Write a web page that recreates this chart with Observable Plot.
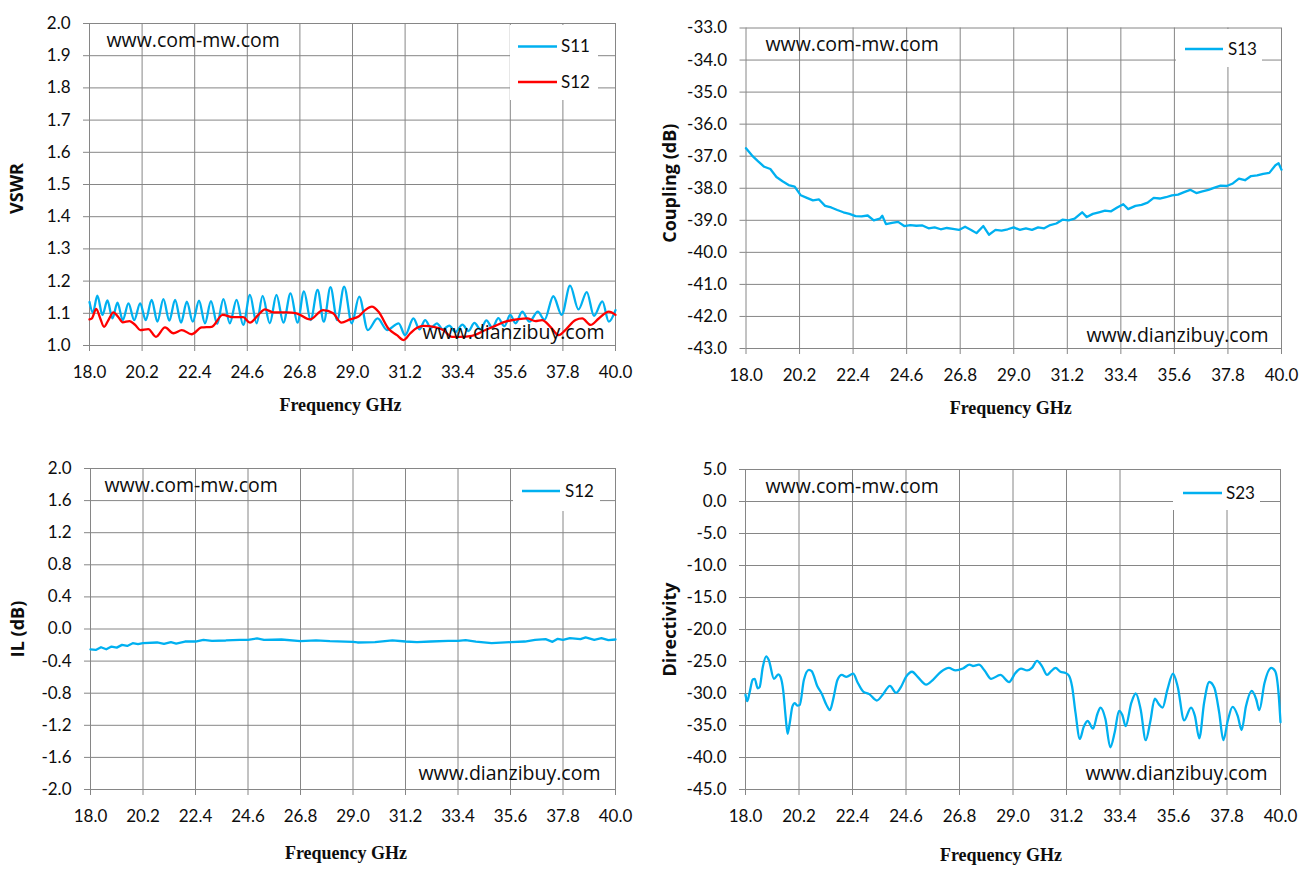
<!DOCTYPE html>
<html>
<head>
<meta charset="utf-8">
<script src="https://cdn.jsdelivr.net/npm/d3@7"></script>
<script src="https://cdn.jsdelivr.net/npm/@observablehq/plot@0.6"></script>
<style>
  body { margin: 0; background: #fff; }
  #root { position: relative; width: 1310px; height: 874px; overflow: hidden; background: #fff; }
  #root > svg { position: absolute; }
</style>
</head>
<body>
<div id="root"></div>
<script>
// ---------- tick labels ----------
const xTicks = [18.0, 20.2, 22.4, 24.6, 26.8, 29.0, 31.2, 33.4, 35.6, 37.8, 40.0];
const vswrTicks = [1.0, 1.1, 1.2, 1.3, 1.4, 1.5, 1.6, 1.7, 1.8, 1.9, 2.0];
const couplingTicks = [-43, -42, -41, -40, -39, -38, -37, -36, -35, -34, -33];
const ilTicks = [-2.0, -1.6, -1.2, -0.8, -0.4, 0.0, 0.4, 0.8, 1.2, 1.6, 2.0];
const dirTicks = [-45, -40, -35, -30, -25, -20, -15, -10, -5, 0, 5];

// ---------- series: VSWR S11 ----------
const s11Freq = [18.0, 18.14, 18.33, 18.54, 18.75, 18.96, 19.17, 19.39, 19.63, 19.87, 20.12, 20.35, 20.6, 20.84,
  21.09, 21.34, 21.58, 21.83, 22.07, 22.32, 22.58, 22.83, 23.08, 23.34, 23.6, 23.87, 24.15, 24.43, 24.71, 24.99,
  25.24, 25.54, 25.82, 26.11, 26.41, 26.7, 26.97, 27.25, 27.54, 27.8, 28.08, 28.36, 28.65, 28.97, 29.28, 29.64,
  30.05, 30.45, 30.93, 31.2, 31.55, 31.8, 32.04, 32.28, 32.53, 32.78, 33.05, 33.3, 33.6, 33.85, 34.1, 34.35,
  34.6, 34.85, 35.1, 35.35, 35.6, 35.82, 36.1, 36.4, 36.75, 37.03, 37.4, 37.75, 38.1, 38.45, 38.8, 39.1, 39.45,
  39.72, 40.0];
const s11Vswr = [1.135, 1.102, 1.155, 1.095, 1.140, 1.084, 1.133, 1.079, 1.131, 1.079, 1.131, 1.079, 1.142, 1.074,
  1.144, 1.077, 1.142, 1.071, 1.136, 1.074, 1.139, 1.069, 1.138, 1.067, 1.144, 1.069, 1.142, 1.064, 1.157, 1.069,
  1.154, 1.069, 1.157, 1.071, 1.162, 1.071, 1.168, 1.079, 1.173, 1.074, 1.181, 1.079, 1.183, 1.069, 1.152, 1.048,
  1.084, 1.048, 1.069, 1.032, 1.084, 1.050, 1.079, 1.055, 1.069, 1.050, 1.062, 1.042, 1.065, 1.045, 1.070, 1.050,
  1.078, 1.055, 1.085, 1.060, 1.095, 1.069, 1.105, 1.074, 1.105, 1.080, 1.153, 1.095, 1.186, 1.112, 1.166, 1.092,
  1.137, 1.074, 1.110];

// ---------- series: VSWR S12 ----------
const s12Freq = [18.0, 18.1, 18.28, 18.45, 18.61, 18.79, 19.0, 19.21, 19.39, 19.67, 19.91, 20.12, 20.46, 20.78,
  21.16, 21.51, 21.86, 22.27, 22.69, 23.11, 23.57, 24.01, 24.43, 24.71, 25.06, 25.34, 25.69, 26.24, 26.66, 27.22,
  27.77, 28.19, 28.54, 28.89, 29.25, 29.53, 29.81, 30.09, 30.5, 30.86, 31.14, 31.42, 31.7, 31.98, 32.4, 32.8,
  33.16, 33.51, 33.99, 34.56, 34.97, 35.4, 35.95, 36.3, 36.65, 36.93, 37.28, 37.63, 37.9, 38.33, 38.61, 38.96,
  39.3, 39.72, 40.0];
const s12Vswr = [1.081, 1.084, 1.114, 1.084, 1.058, 1.079, 1.103, 1.088, 1.072, 1.076, 1.064, 1.048, 1.051, 1.027,
  1.056, 1.038, 1.048, 1.035, 1.056, 1.058, 1.095, 1.088, 1.088, 1.071, 1.095, 1.112, 1.103, 1.103, 1.100, 1.081,
  1.110, 1.100, 1.071, 1.081, 1.090, 1.110, 1.121, 1.105, 1.053, 1.032, 1.017, 1.038, 1.055, 1.061, 1.058, 1.048,
  1.027, 1.027, 1.030, 1.048, 1.061, 1.074, 1.082, 1.084, 1.076, 1.079, 1.058, 1.032, 1.048, 1.079, 1.084, 1.064,
  1.084, 1.105, 1.095];

// ---------- series: Coupling S13 ----------
const s13Freq = [18.0, 18.25, 18.5, 18.75, 19.0, 19.25, 19.5, 19.75, 20.0, 20.25, 20.5, 20.75, 21.0, 21.25, 21.5,
  21.75, 22.0, 22.25, 22.5, 22.75, 23.0, 23.25, 23.5, 23.6, 23.75, 24.0, 24.25, 24.5, 24.75, 25.0, 25.25, 25.5,
  25.75, 26.0, 26.25, 26.5, 26.75, 27.0, 27.25, 27.47, 27.75, 27.98, 28.25, 28.5, 28.75, 29.0, 29.25, 29.5,
  29.75, 30.0, 30.25, 30.5, 30.75, 31.0, 31.25, 31.5, 31.81, 32.0, 32.25, 32.5, 32.75, 33.0, 33.25, 33.5, 33.7,
  34.0, 34.25, 34.5, 34.75, 35.0, 35.25, 35.5, 35.75, 36.0, 36.25, 36.5, 36.75, 37.0, 37.25, 37.5, 37.75, 38.0,
  38.25, 38.5, 38.75, 39.0, 39.25, 39.5, 39.75, 39.88, 40.0];
const s13Coupling = [-36.75, -36.98, -37.16, -37.33, -37.40, -37.65, -37.78, -37.90, -37.95, -38.22, -38.30, -38.38,
  -38.35, -38.55, -38.60, -38.68, -38.75, -38.80, -38.87, -38.88, -38.85, -39.00, -38.95, -38.86, -39.12, -39.08,
  -39.05, -39.18, -39.15, -39.17, -39.16, -39.25, -39.22, -39.28, -39.24, -39.27, -39.30, -39.20, -39.30, -39.40,
  -39.18, -39.45, -39.30, -39.32, -39.28, -39.22, -39.30, -39.25, -39.30, -39.22, -39.25, -39.15, -39.10, -38.98,
  -39.00, -38.95, -38.75, -38.90, -38.80, -38.75, -38.70, -38.72, -38.60, -38.50, -38.65, -38.55, -38.52, -38.45,
  -38.30, -38.32, -38.28, -38.22, -38.20, -38.12, -38.05, -38.15, -38.10, -38.05, -37.98, -37.92, -37.93, -37.85,
  -37.70, -37.75, -37.62, -37.60, -37.55, -37.52, -37.28, -37.22, -37.42];

// ---------- series: Insertion loss S12 ----------
const ilFreq = [18.0, 18.22, 18.44, 18.66, 18.88, 19.1, 19.32, 19.54, 19.77, 19.99, 20.2, 20.79, 21.08, 21.37, 21.59,
  21.96, 22.4, 22.73, 23.09, 23.67, 24.25, 24.6, 24.98, 25.27, 26.0, 26.8, 27.45, 28.03, 29.0, 29.19, 29.92, 30.65,
  31.2, 31.68, 32.26, 32.99, 33.4, 33.72, 34.15, 34.81, 35.6, 36.2, 36.63, 37.07, 37.36, 37.58, 37.8, 38.09, 38.53,
  38.75, 39.11, 39.41, 39.7, 40.0];
const s12IL = [-0.253, -0.261, -0.227, -0.253, -0.219, -0.232, -0.198, -0.211, -0.177, -0.189, -0.177, -0.168, -0.185,
  -0.164, -0.181, -0.156, -0.156, -0.135, -0.147, -0.143, -0.135, -0.135, -0.118, -0.135, -0.131, -0.152, -0.143,
  -0.152, -0.160, -0.168, -0.164, -0.143, -0.156, -0.164, -0.156, -0.147, -0.147, -0.139, -0.156, -0.177, -0.164,
  -0.156, -0.135, -0.126, -0.160, -0.122, -0.135, -0.114, -0.126, -0.105, -0.135, -0.114, -0.139, -0.131];

// ---------- series: Directivity S23 ----------
const s23Freq = [18.0, 18.07, 18.16, 18.3, 18.38, 18.5, 18.58, 18.71, 18.85, 18.96, 19.17, 19.35, 19.44, 19.55, 19.65,
  19.73, 19.82, 19.93, 20.03, 20.13, 20.23, 20.4, 20.61, 20.72, 20.96, 21.13, 21.33, 21.47, 21.6, 21.78, 21.96,
  22.15, 22.43, 22.6, 22.84, 23.09, 23.4, 23.64, 23.94, 24.19, 24.39, 24.6, 24.85, 25.08, 25.43, 25.7, 26.04,
  26.36, 26.64, 26.94, 27.21, 27.35, 27.6, 27.83, 28.1, 28.48, 28.84, 29.1, 29.33, 29.58, 29.78, 29.99, 30.2,
  30.4, 30.57, 30.75, 30.95, 31.16, 31.3, 31.43, 31.57, 31.75, 31.9, 32.07, 32.29, 32.47, 32.6, 32.8, 33.0, 33.18,
  33.36, 33.5, 33.63, 33.87, 34.05, 34.25, 34.46, 34.64, 34.83, 35.0, 35.15, 35.35, 35.58, 35.77, 36.04, 36.32,
  36.48, 36.66, 36.86, 37.07, 37.28, 37.48, 37.65, 37.83, 38.03, 38.24, 38.4, 38.58, 38.82, 39.0, 39.13, 39.34,
  39.62, 39.78, 39.93, 40.0];
const s23Dir = [-30.2, -31.2, -30.0, -27.8, -27.7, -29.2, -29.0, -25.9, -24.2, -24.8, -27.7, -27.0, -27.4, -29.5, -33.6,
  -36.3, -34.6, -32.0, -31.5, -31.9, -31.8, -27.9, -26.3, -26.5, -28.9, -30.0, -31.8, -32.6, -31.0, -27.9, -27.1,
  -27.4, -26.9, -28.2, -29.7, -30.1, -31.1, -30.2, -28.8, -29.9, -29.0, -27.4, -26.6, -27.4, -28.6, -27.9, -26.6,
  -26.0, -26.4, -26.1, -25.5, -25.7, -25.5, -26.4, -27.7, -27.1, -28.2, -26.8, -26.1, -26.4, -26.0, -24.9, -25.8,
  -27.1, -26.5, -26.0, -26.6, -26.8, -27.2, -28.9, -33.0, -37.1, -35.3, -34.3, -35.5, -33.2, -32.2, -34.0, -38.4,
  -36.1, -32.7, -33.4, -35.1, -31.4, -30.0, -32.5, -37.3, -34.5, -30.8, -31.7, -32.2, -29.4, -26.9, -28.9, -34.2,
  -32.2, -33.5, -37.0, -31.4, -28.2, -29.1, -33.0, -37.3, -34.3, -32.1, -33.5, -35.7, -32.0, -29.6, -30.9, -32.6,
  -28.4, -26.0, -26.5, -30.4, -34.5];

// ---------- legend / text ----------
const xTitle = "Frequency GHz";
const watermarkTop = "www.com-mw.com";
const watermarkBottom = "www.dianzibuy.com";

const BLUE = "#00B0F0", RED = "#FF0000", GRID = "#868686", INK = "#0d0d0d";
const fmt = d => d.toFixed(1);
const table = (xs, ys) => xs.map((f, i) => ({f, v: ys[i]}));

const panels = [
  {left: 0, top: 0, w: 655, h: 437, ml: 89, mr: 40, mt: 23, mb: 92,
   yDomain: [1, 2], yTicks: vswrTicks, yLabel: "VSWR", yl: [-72.5, 4], xl: [-12, 60],
   wm1: [17, 17], wm2: [-11, -12.5], curve: "monotone-x",
   series: [{x: s11Freq, y: s11Vswr, c: BLUE, name: "S11"}, {x: s12Freq, y: s12Vswr, c: RED, name: "S12"}],
   legend: {x: 510, y: 25, w: 88, h: 75, rows: [46.5, 82], lx: 518, lw: 39, tx: 561}},
  {left: 655, top: 0, w: 655, h: 437, ml: 90.5, mr: 29, mt: 27.5, mb: 89,
   yDomain: [-43, -33], yTicks: couplingTicks, yLabel: "Coupling (dB)", yl: [-75.5, -5], xl: [-3, 60],
   wm1: [19.5, 16.5], wm2: [-13, -13], curve: "linear",
   series: [{x: s13Freq, y: s13Coupling, c: BLUE, name: "S13"}],
   legend: {x: 1176, y: 29, w: 86, h: 38, rows: [49], lx: 1185, lw: 38, tx: 1228}},
  {left: 0, top: 437, w: 655, h: 437, ml: 90, mr: 40, mt: 31, mb: 85,
   yDomain: [-2, 2], yTicks: ilTicks, yLabel: "IL (dB)", yl: [-72, 0], xl: [-7, 64],
   wm1: [14, 17], wm2: [-15, -16], curve: "linear",
   series: [{x: ilFreq, y: s12IL, c: BLUE, name: "S12"}],
   legend: {x: 513, y: 469, w: 87, h: 42, rows: [491], lx: 522, lw: 38, tx: 565}},
  {left: 655, top: 437, w: 655, h: 437, ml: 90, mr: 30, mt: 32, mb: 85,
   yDomain: [-45, 5], yTicks: dirTicks, yLabel: "Directivity", yl: [-75, 0], xl: [-12, 66],
   wm1: [20, 17], wm2: [-13, -16], curve: "monotone-x",
   series: [{x: s23Freq, y: s23Dir, c: BLUE, name: "S23"}],
   legend: {x: 1173, y: 470, w: 87, h: 40, rows: [493], lx: 1183, lw: 39, tx: 1226}}
];

const root = document.getElementById("root");

for (const p of panels) {
  const chart = Plot.plot({
    width: p.w, height: p.h,
    marginLeft: p.ml, marginRight: p.mr, marginTop: p.mt, marginBottom: p.mb,
    x: {domain: [18, 40]},
    y: {domain: p.yDomain},
    style: {fontFamily: "Lato, sans-serif", fontSize: "17px", color: INK, background: "#fff"},
    marks: [
      Plot.gridX(xTicks, {stroke: GRID, strokeOpacity: 1, strokeWidth: 1}),
      Plot.gridY(p.yTicks, {stroke: GRID, strokeOpacity: 1, strokeWidth: 1}),
      Plot.axisX({ticks: xTicks, tickFormat: fmt, tickSize: 6, tickPadding: 14, stroke: GRID, fill: INK, fontSize: 17, label: null}),
      Plot.axisY({ticks: p.yTicks, tickFormat: fmt, tickSize: 6, tickPadding: 13, stroke: GRID, fill: INK, fontSize: 17, label: null}),
      ...p.series.map(s => Plot.line(table(s.x, s.y), {x: "f", y: "v", stroke: s.c, strokeWidth: 2.3, curve: p.curve})),
      Plot.text([watermarkTop], {text: d => d, frameAnchor: "top-left", dx: p.wm1[0], dy: p.wm1[1], textAnchor: "start", lineAnchor: "middle", fontFamily: "Open Sans", fontSize: 19.5, fill: INK}),
      Plot.text([watermarkBottom], {text: d => d, frameAnchor: "bottom-right", dx: p.wm2[0], dy: p.wm2[1], textAnchor: "end", lineAnchor: "middle", fontFamily: "Open Sans", fontSize: 19.5, fill: INK}),
      Plot.text([p.yLabel], {text: d => d, frameAnchor: "left", dx: p.yl[0], dy: p.yl[1], rotate: -90, textAnchor: "middle", lineAnchor: "middle", fontFamily: "Open Sans", fontWeight: "bold", fontSize: 18, fill: INK}),
      Plot.text([xTitle], {text: d => d, frameAnchor: "bottom", dx: p.xl[0], dy: p.xl[1], textAnchor: "middle", lineAnchor: "middle", fontFamily: "Liberation Serif", fontWeight: "bold", fontSize: 18, fill: INK, style: "letter-spacing:1.9px"})
    ]
  });
  chart.style.left = p.left + "px";
  chart.style.top = p.top + "px";
  root.appendChild(chart);

  // legend box
  const L = p.legend;
  const lg = d3.select(root).append("svg")
    .style("position", "absolute")
    .style("left", L.x + "px").style("top", L.y + "px")
    .attr("width", L.w).attr("height", L.h);
  lg.append("rect").attr("width", L.w).attr("height", L.h).attr("fill", "#fff");
  p.series.forEach((s, i) => {
    const yy = L.rows[i] - L.y;
    lg.append("line").attr("x1", L.lx - L.x).attr("x2", L.lx - L.x + L.lw)
      .attr("y1", yy).attr("y2", yy).attr("stroke", s.c).attr("stroke-width", 2.3);
    lg.append("text").attr("x", L.tx - L.x).attr("y", yy).attr("dy", "0.35em")
      .attr("font-family", "Lato, sans-serif").attr("font-size", 17).attr("fill", INK).text(s.name);
  });
}
</script>
</body>
</html>
